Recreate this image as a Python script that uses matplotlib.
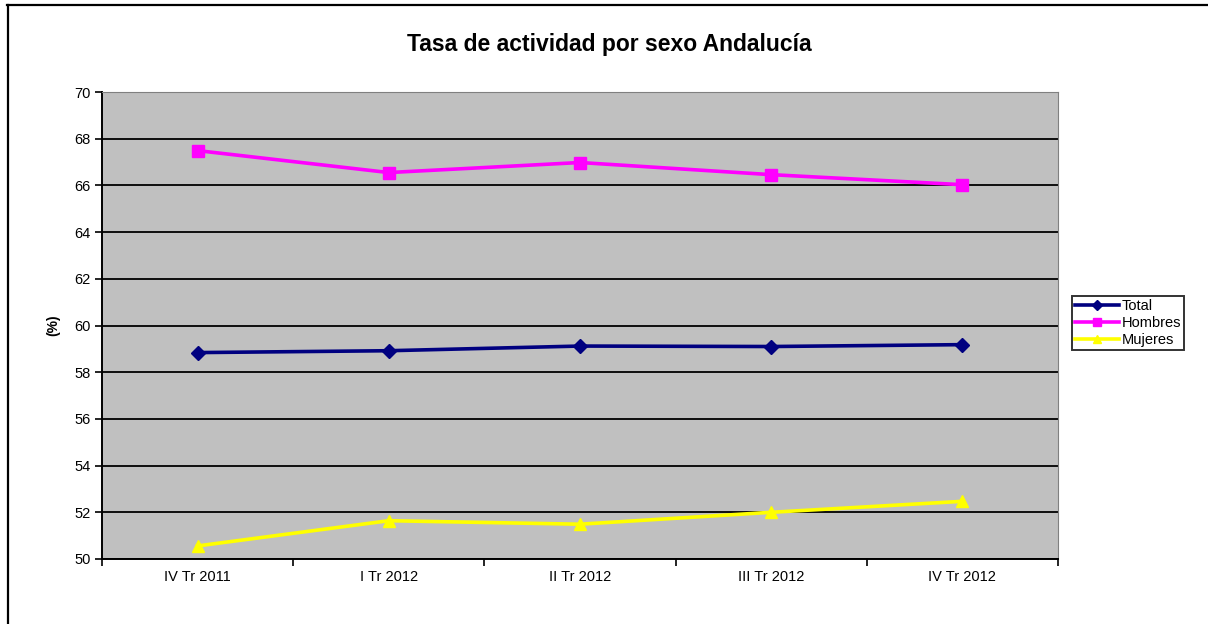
import matplotlib
matplotlib.use("Agg")
import matplotlib.pyplot as plt
from matplotlib.lines import Line2D

categories = ["IV Tr 2011", "I Tr 2012", "II Tr 2012", "III Tr 2012", "IV Tr 2012"]
total = [58.84, 58.92, 59.12, 59.10, 59.18]
hombres = [67.49, 66.55, 66.98, 66.46, 66.03]
mujeres = [50.56, 51.64, 51.49, 52.00, 52.47]
yticks = [50, 52, 54, 56, 58, 60, 62, 64, 66, 68, 70]

plt.rcParams['font.family'] = ['Liberation Sans', 'DejaVu Sans']

W, H = 1208, 624
fig = plt.figure(figsize=(W / 100, H / 100), dpi=100)
fig.patch.set_facecolor("white")
ax = fig.add_axes([102 / W, 1 - 559 / H, (1058 - 102) / W, (559 - 92) / H])
ax.set_facecolor("#C0C0C0")

x = list(range(len(categories)))
ax.plot(x, total, color="#000080", lw=2.6, marker="D", markersize=7, label="Total", zorder=3)
ax.plot(x, hombres, color="#FF00FF", lw=2.6, marker="s", markersize=9, label="Hombres", zorder=3)
ax.plot(x, mujeres, color="#FFFF00", lw=2.6, marker="^", markersize=9, label="Mujeres", zorder=3)

ax.set_xlim(-0.5, len(categories) - 0.5)
ax.set_ylim(50, 70)
ax.set_yticks(yticks)
ax.set_yticklabels([str(v) for v in yticks], fontsize=10.5)
ax.yaxis.grid(True, color="black", lw=1.3)
ax.set_axisbelow(True)

ax.set_xticks([i - 0.5 for i in range(len(categories) + 1)])
ax.set_xticklabels([])
ax.set_xticks(x, minor=True)
ax.set_xticklabels(categories, minor=True, fontsize=10.5)
ax.tick_params(axis="x", which="minor", length=0, pad=8)
ax.tick_params(axis="x", which="major", direction="out", length=5, width=1.2)
ax.tick_params(axis="y", direction="out", length=5, width=1.2, pad=3)

for s in ["top", "right"]:
    ax.spines[s].set_color("#808080")
    ax.spines[s].set_linewidth(0.8)
for s in ["left", "bottom"]:
    ax.spines[s].set_color("black")
    ax.spines[s].set_linewidth(1.4)

ax.set_ylabel("(%)", fontsize=10, fontweight="bold", labelpad=10)

fig.text(609 / W, 1 - 44 / H, "Tasa de actividad por sexo Andalucía",
         ha="center", va="center", fontsize=16.5, fontweight="bold")

leg = ax.legend(loc="upper left", bbox_to_anchor=(1072 / W, 1 - 296 / H),
                bbox_transform=fig.transFigure, fontsize=10.5, frameon=True,
                fancybox=False, edgecolor="black", borderpad=0.2,
                labelspacing=0.2, handlelength=3.0, handletextpad=0.2,
                borderaxespad=0, markerscale=0.7)
leg.get_frame().set_linewidth(1.4)

# outer chart frame (only top and left edges are visible in the crop)
fig.add_artist(Line2D([7 / W, 1.0], [1 - 5 / H, 1 - 5 / H], transform=fig.transFigure,
                      color="black", lw=1.6))
fig.add_artist(Line2D([8 / W, 8 / W], [1 - 5 / H, 0.0], transform=fig.transFigure,
                      color="black", lw=1.6))

fig.savefig("out.png", dpi=100)
